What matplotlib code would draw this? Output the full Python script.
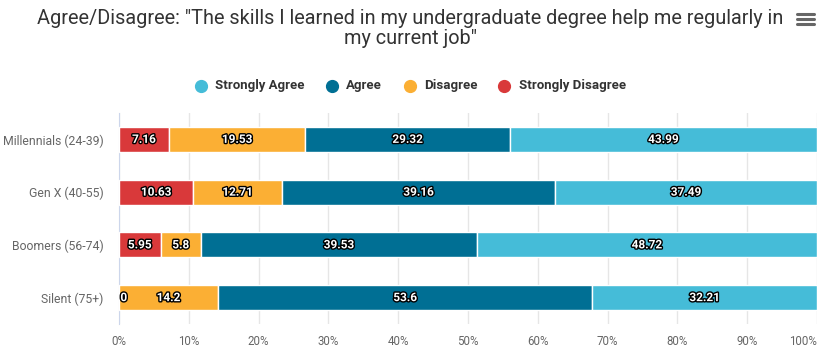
import matplotlib
matplotlib.use("Agg")
import matplotlib.pyplot as plt
import matplotlib.patheffects as pe
from matplotlib.lines import Line2D
import numpy as np

categories = ["Millennials (24-39)", "Gen X (40-55)", "Boomers (56-74)", "Silent (75+)"]
strongly_disagree = [7.16, 10.63, 5.95, 0]
disagree = [19.53, 12.71, 5.8, 14.2]
agree = [29.32, 39.16, 39.53, 53.6]
strongly_agree = [43.99, 37.49, 48.72, 32.21]
ticks = [0, 10, 20, 30, 40, 50, 60, 70, 80, 90, 100]

series = [("Strongly Disagree", strongly_disagree, "#d9393a"),
          ("Disagree", disagree, "#fbaf34"),
          ("Agree", agree, "#006f94"),
          ("Strongly Agree", strongly_agree, "#45bcd8")]

plt.rcParams['font.family'] = ['Roboto', 'DejaVu Sans']

fig = plt.figure(figsize=(8.26, 3.54), dpi=100)
ax = fig.add_axes([119/826, 1-324/354, 698/826, 211/354])

y = np.arange(len(categories))
left = np.zeros(len(categories))
outline = [pe.withStroke(linewidth=2, foreground="black")]
for name, vals, col in series:
    vals = np.array(vals, dtype=float)
    ax.barh(y, vals, left=left, height=0.47, color=col, edgecolor="white", linewidth=1, zorder=3)
    for i, v in enumerate(vals):
        if v == 0:
            ax.text(left[i] + 0.2, y[i], "0", ha="left", va="center", fontsize=8.5,
                    fontweight="bold", color="white", path_effects=outline, zorder=4)
        else:
            ax.text(left[i] + v / 2, y[i], f"{v:g}", ha="center", va="center", fontsize=8.5,
                    fontweight="bold", color="white", path_effects=outline, zorder=4)
    left += vals

ax.set_xlim(0, 100)
ax.set_ylim(len(categories) - 0.5, -0.5)
ax.set_yticks(y)
ax.set_yticklabels(categories, fontsize=8.8, color="#666666")
ax.set_xticks(ticks)
xl = ax.set_xticklabels([f"{t}%" for t in ticks], fontsize=8.3, color="#666666")
xl[-1].set_horizontalalignment("right")
ax.tick_params(axis="y", length=0, pad=11)
ax.tick_params(axis="x", length=0, pad=8)
ax.grid(axis="x", color="#e6e6e6", linewidth=1, zorder=0)
for s in ["top", "right", "bottom"]:
    ax.spines[s].set_visible(False)
ax.spines["left"].set_color("#ccd6eb")

fig.text(410/826, 1-18/354, 'Agree/Disagree: "The skills I learned in my undergraduate degree help me regularly in',
         ha="center", va="center", fontsize=14.3, color="#333333")
fig.text(410/826, 1-38/354, 'my current job"', ha="center", va="center", fontsize=14.3,
         color="#333333")

# menu icon
for yy in [14, 19, 24]:
    fig.add_artist(Line2D([797/826, 814/826], [1-yy/354, 1-yy/354], color="#666666",
                          linewidth=2.2, solid_capstyle="round"))

# legend drawn by hand, in Highcharts order
leg_marker_x = [201, 332, 410, 504]
leg_text_x = [215, 346, 424, 519]
for k, (name, _, col) in enumerate(reversed(series)):
    fig.add_artist(Line2D([leg_marker_x[k]/826], [1-86/354], marker="o", markersize=8.5,
                          color=col, linestyle=""))
    fig.text(leg_text_x[k]/826, 1-86/354, name, ha="left", va="center", fontsize=9.5,
             fontweight="bold", color="#333333")

fig.savefig("out.png", dpi=100)
